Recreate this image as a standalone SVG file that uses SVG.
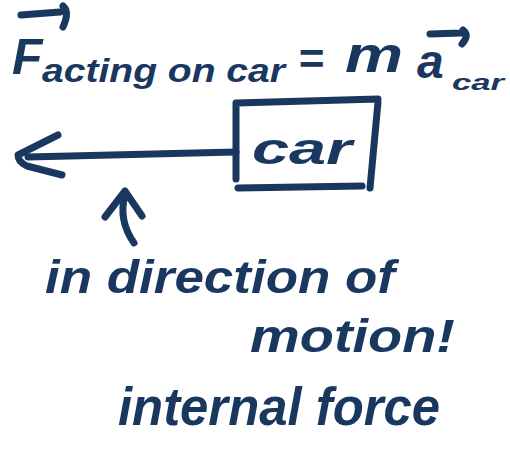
<svg xmlns="http://www.w3.org/2000/svg" width="510" height="450" viewBox="0 0 510 450">
<style>
.ink{fill:none;stroke:#1a375f;stroke-width:7;stroke-linecap:round;stroke-linejoin:round}
.t{fill:#1a375f;font-family:"Liberation Sans",Arial,sans-serif;font-style:italic;font-weight:bold}
</style>
<rect width="510" height="450" fill="#fff"/>
<g id="equation">
<path class="ink" d="M21,15 L60,12 M63,6 Q70,12 63,27"/>
<text class="t" x="12" y="74" font-size="50">F</text>
<text class="t" x="42" y="82" font-size="34" textLength="243" lengthAdjust="spacingAndGlyphs">acting on car</text>
<text class="t" x="298" y="74" font-size="44">=</text>
<text class="t" x="345" y="72" font-size="50" textLength="58" lengthAdjust="spacingAndGlyphs">m</text>
<path class="ink" d="M430,34 L461,33 M463,30 Q470,35 462,44"/>
<text class="t" x="417" y="78" font-size="48">a</text>
<text class="t" x="452" y="90" font-size="22" textLength="52" lengthAdjust="spacingAndGlyphs">car</text>
</g>
<g id="car">
<path class="ink" d="M236,103 L378,99 M378,102 L370,188 M238,188 L362,186 M236,103 L236,179"/>
<text class="t" x="252" y="164" font-size="44" textLength="100" lengthAdjust="spacingAndGlyphs">car</text>
</g>
<g id="connectors">
<path class="ink" d="M28,157 L236,152"/>
<path class="ink" d="M58,135 L18,155 Q18,162 27,166 L62,175"/>
<path class="ink" d="M105,217 L125,191 L142,216 M125,195 Q118,220 134,243"/>
</g>
<g id="labels">
<text class="t" x="45" y="293" font-size="46" textLength="350" lengthAdjust="spacingAndGlyphs">in direction of</text>
<text class="t" x="250" y="352" font-size="46" textLength="205" lengthAdjust="spacingAndGlyphs">motion!</text>
<text class="t" x="118" y="425" font-size="54" textLength="322" lengthAdjust="spacingAndGlyphs">internal force</text>
</g>
</svg>
